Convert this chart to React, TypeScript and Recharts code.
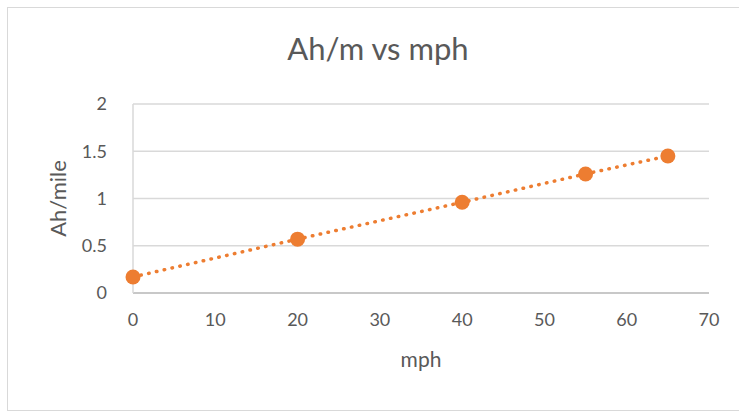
import { ScatterChart, Scatter, XAxis, YAxis, CartesianGrid, Label } from "recharts";

const speeds = [0, 20, 40, 55, 65];
const ahPerMile = [0.17, 0.57, 0.96, 1.26, 1.45];
const xTicks = [0, 10, 20, 30, 40, 50, 60, 70];
const yTicks = [0, 0.5, 1, 1.5, 2];

const points = speeds.map((mph, i) => ({ mph, ah: ahPerMile[i] }));

const FONT = "Lato, 'Open Sans', sans-serif";
const TEXT = "#595959";
const ORANGE = "#ed7d31";

const Dot = (props: any) => <circle cx={props.cx} cy={props.cy} r={7.5} fill={ORANGE} />;

export default function App() {
  return (
    <div style={{ position: "fixed", left: 0, top: 0, width: 739, height: 411, background: "#fff", fontFamily: FONT }}>
      <div style={{ position: "absolute", left: 7, top: 7, width: 740, height: 402, border: "1px solid #d9d9d9" }} />
      <div style={{ position: "absolute", left: 0, top: 29, width: 756, textAlign: "center", fontSize: 31, color: TEXT }}>
        Ah/m vs mph
      </div>
      <div style={{ position: "absolute", left: 0, top: 0 }}>
        <ScatterChart width={739} height={411} margin={{ top: 104, right: 30, bottom: 58, left: 73 }}>
          <CartesianGrid vertical={false} stroke="#d9d9d9" strokeWidth={1.5} />
          <XAxis
            type="number"
            dataKey="mph"
            domain={[0, 70]}
            ticks={xTicks}
            height={60}
            tickLine={false}
            axisLine={{ stroke: "#bfbfbf", strokeWidth: 1.5 }}
            tick={{ fill: TEXT, fontSize: 18, fontFamily: FONT }}
            tickMargin={14}
          >
            <Label value="mph" position="insideBottom" offset={-14} fill={TEXT} fontSize={21} fontFamily={FONT} />
          </XAxis>
          <YAxis
            type="number"
            dataKey="ah"
            domain={[0, 2]}
            ticks={yTicks}
            width={60}
            tickLine={false}
            axisLine={{ stroke: "#d9d9d9", strokeWidth: 1.5 }}
            tick={{ fill: TEXT, fontSize: 18, fontFamily: FONT }}
            tickMargin={20}
          >
            <Label value="Ah/mile" angle={-90} position="insideLeft" offset={-15} fill={TEXT} fontSize={22} fontFamily={FONT} style={{ textAnchor: "middle" }} />
          </YAxis>
          <Scatter
            data={points}
            isAnimationActive={false}
            shape={Dot}
            line={{ stroke: ORANGE, strokeWidth: 3.5, strokeDasharray: "0.5 7.5", strokeLinecap: "round" }}
          />
        </ScatterChart>
      </div>
    </div>
  );
}
